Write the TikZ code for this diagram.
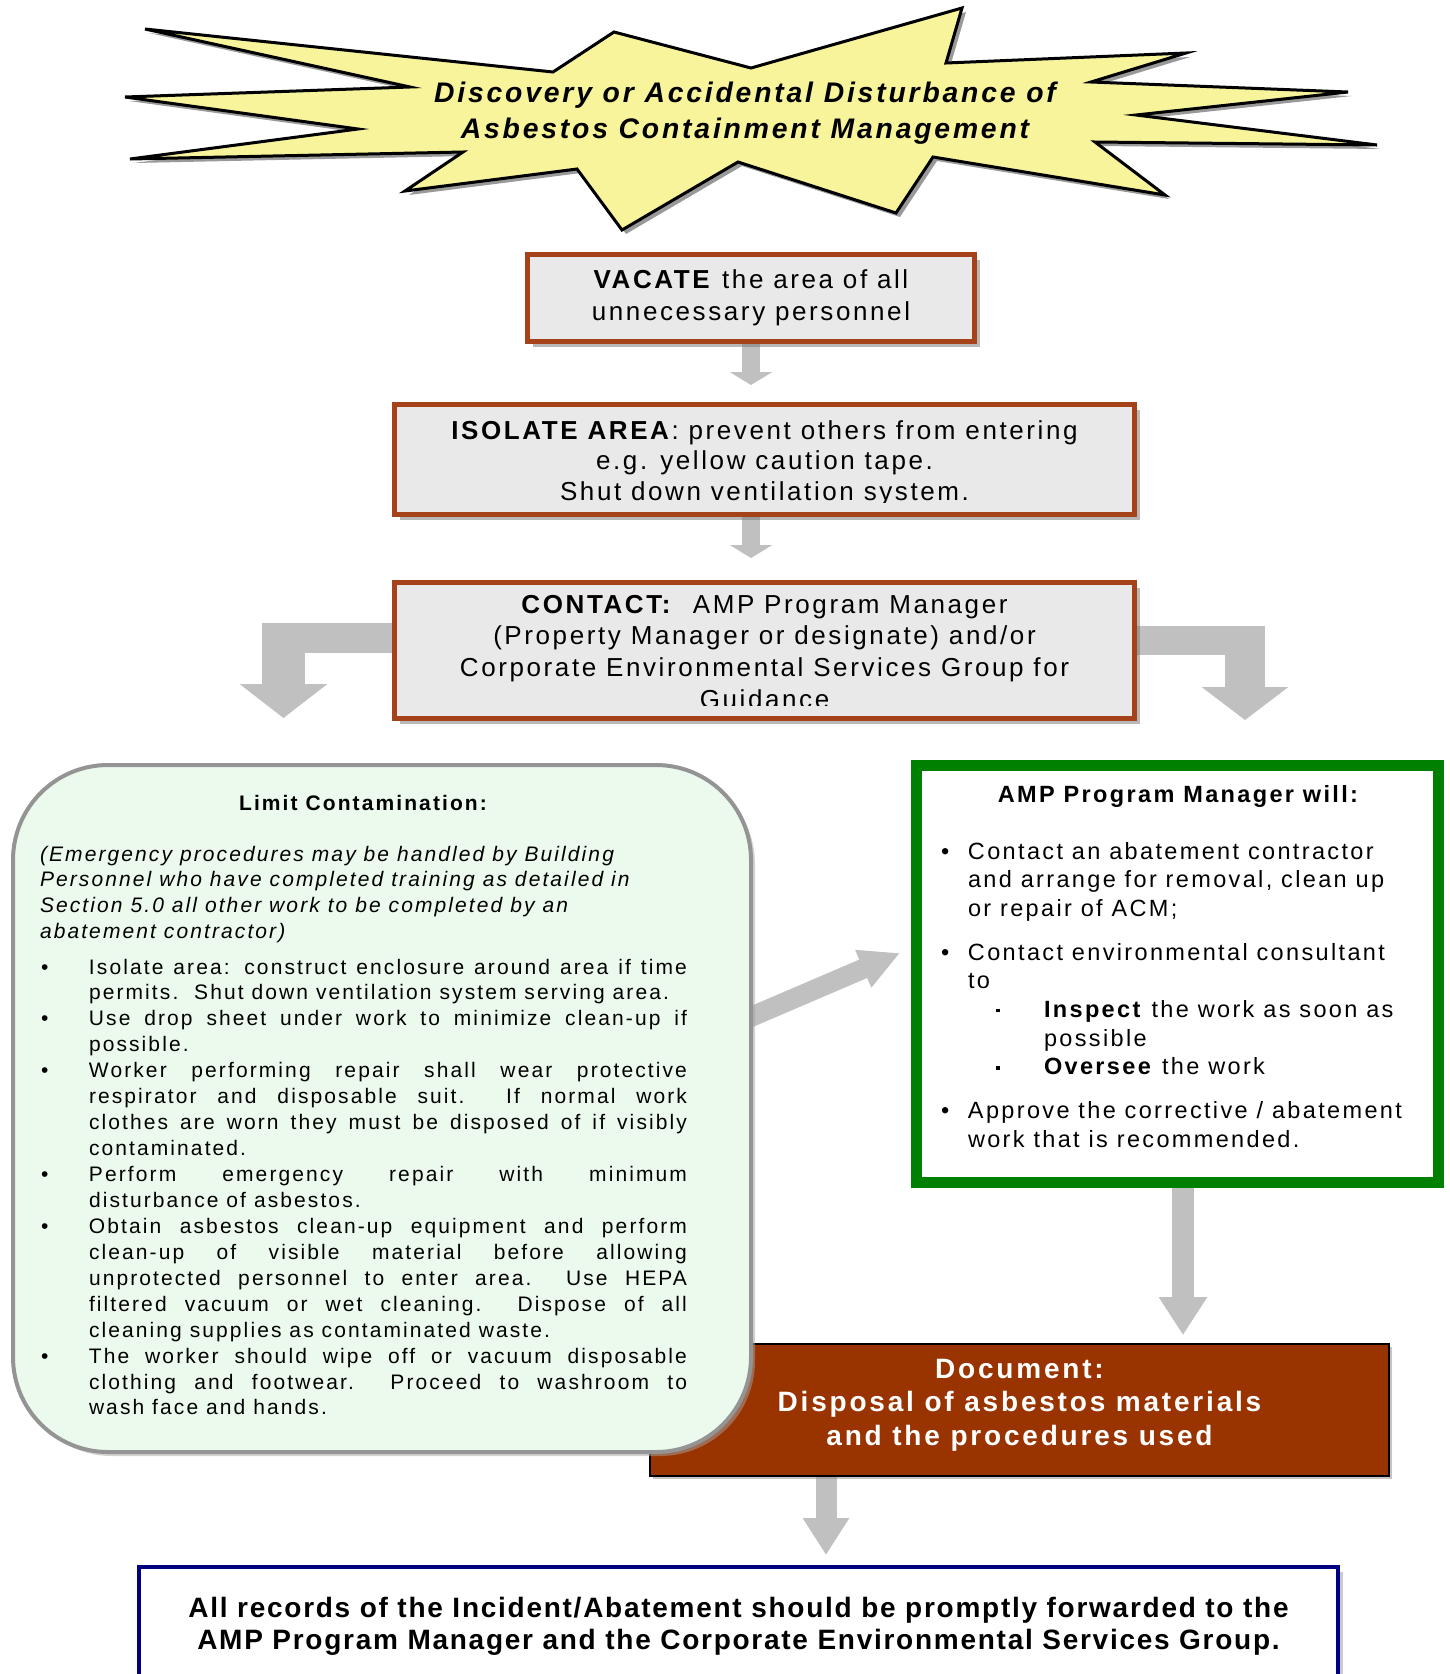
\documentclass[tikz,border=0pt]{standalone}
\usepackage{fontspec}
\setmainfont{Liberation Sans}
\newfontfamily\lsfont[LetterSpace=10]{Liberation Sans}
\newfontfamily\lsfontb[LetterSpace=6.2]{Liberation Sans}
\usetikzlibrary{arrows.meta,shadows,backgrounds}
\pgfdeclarelayer{bottomlayer}
\pgfsetlayers{bottomlayer,background,main}
\definecolor{boxfill}{RGB}{233,233,233}
\definecolor{boxedge}{RGB}{165,66,25}
\definecolor{arrowgray}{RGB}{192,192,192}
\definecolor{starfill}{RGB}{248,244,155}
\definecolor{lgreen}{RGB}{236,250,238}
\definecolor{dgreen}{RGB}{0,128,0}
\definecolor{docfill}{RGB}{153,51,0}
\definecolor{navyedge}{RGB}{0,0,128}
\newcommand\jline[1]{\makebox[598pt][s]{#1}\\}
\newcommand\lline[1]{\makebox[598pt][l]{#1}\\}
\newcommand\lastl[1]{\makebox[598pt][l]{#1}}
\newcommand\bitem{\makebox[49pt][l]{\hspace{1pt}\textbullet}}
\newcommand\bind{\hspace*{49pt}}
\newcommand\rbul{\makebox[27pt][l]{\textbullet}}
\newcommand\rind{\hspace*{27pt}}
\newcommand\sqb{\makebox[48pt][l]{\rule[0.22em]{3.5pt}{3.5pt}}}
\begin{document}
\begin{tikzpicture}[x=1pt,y=-1pt,
  every node/.style={inner sep=0pt, outer sep=0pt},
  mainbox/.style={rectangle, draw=boxedge, line width=5pt, fill=boxfill,
    drop shadow={shadow xshift=5pt, shadow yshift=-5pt, fill=black!55}},
  lbox/.style={rectangle, rounded corners=95pt, draw=black!42, line width=4pt, fill=lgreen,
    drop shadow={shadow xshift=4pt, shadow yshift=-4pt, fill=black!35}},
  gbox/.style={rectangle, draw=dgreen, line width=11pt, fill=white,
    drop shadow={shadow xshift=4pt, shadow yshift=-4pt, fill=black!25}},
  docbox/.style={rectangle, draw=black, line width=2pt, fill=docfill,
    drop shadow={shadow xshift=3pt, shadow yshift=-3pt, fill=black!45}},
  recbox/.style={rectangle, draw=navyedge, line width=4pt, fill=white,
    drop shadow={shadow xshift=5pt, shadow yshift=-5pt, fill=black!40}},
  gar/.style n args={3}{draw=arrowgray, line width=#1, -{Triangle[width=#2,length=#3]}},
  gbar/.style={draw=arrowgray, line width=#1}
]
\useasboundingbox (0,0) rectangle (1450,1674);
\begin{pgfonlayer}{bottomlayer}
\fill[white] (0,0) rectangle (1450,1674);
\end{pgfonlayer}

% starburst
\fill[black!40, shift={(4,4)}] (145,29) -- (553,72) -- (614,32) -- (751,68) -- (962,8) -- (946,63) -- (1186,53) -- (1091,82) -- (1348,92) -- (1136,115) -- (1377,145) -- (1095,142) -- (1165,195) -- (933,157) -- (896,213) -- (738,162) -- (622,230) -- (577,169) -- (405,191) -- (463,152) -- (130,159) -- (358,129) -- (125,97) -- (410,87) -- cycle;
\filldraw[fill=starfill, draw=black, line width=3pt, line join=miter] (145,29) -- (553,72) -- (614,32) -- (751,68) -- (962,8) -- (946,63) -- (1186,53) -- (1091,82) -- (1348,92) -- (1136,115) -- (1377,145) -- (1095,142) -- (1165,195) -- (933,157) -- (896,213) -- (738,162) -- (622,230) -- (577,169) -- (405,191) -- (463,152) -- (130,159) -- (358,129) -- (125,97) -- (410,87) -- cycle;
\node[anchor=base] (burst) at (745,102) {\parbox[t]{800pt}{\centering\lsfont\fontsize{28.3}{36}\selectfont\bfseries\itshape Discovery or Accidental Disturbance of\\Asbestos Containment Management}};

% VACATE
\node[mainbox, minimum width=447pt, minimum height=87pt] (vacate) at (751,298) {};
\node[anchor=base] (vacatetxt) at (751,288) {\parbox[t]{440pt}{\centering\lsfont\fontsize{26}{32}\selectfont\textbf{VACATE} the area of all\\unnecessary personnel}};

% ISOLATE
\node[mainbox, minimum width=740pt, minimum height=110pt] (isolate) at (764.5,459.5) {};
\begin{scope}
\clip (isolate.north west) rectangle (isolate.east |- 0,502);
\node[anchor=base] (isolatetxt) at (764.5,439) {\parbox[t]{730pt}{\centering\lsfont\fontsize{26}{30.7}\selectfont\textbf{ISOLATE AREA}: prevent others from entering\\e.g. yellow caution tape.\\Shut down ventilation system.}};
\end{scope}

% CONTACT
\node[mainbox, minimum width=740pt, minimum height=136pt] (contact) at (764.5,650.5) {};
\begin{scope}
\clip (contact.north west) rectangle (contact.east |- 0,705);
\node[anchor=base] (contacttxt) at (764.5,613) {\parbox[t]{730pt}{\centering\lsfont\fontsize{26}{31.7}\selectfont\textbf{CONTACT:}\ \ AMP Program Manager\\(Property Manager or designate) and/or\\Corporate Environmental Services Group for\\Guidance}};
\end{scope}

% Document box (behind the left box)
\node[docbox, minimum width=739pt, minimum height=132pt] (doc) at (1019.5,1410) {};
\node[anchor=base, text=white] (doctxt) at (1019.5,1378) {\parbox[t]{720pt}{\centering\lsfont\fontsize{28}{33.5}\selectfont\bfseries Document:\\Disposal of asbestos materials\\and the procedures used}};

% Limit contamination box
\node[lbox, minimum width=738pt, minimum height=687pt] (limit) at (382,1108.5) {};
\node[anchor=base] (limithead) at (363,810) {\lsfont\fontsize{21}{26}\selectfont\bfseries Limit Contamination:};
\node[anchor=base west] (limitnote) at (40,861) {\parbox[t]{650pt}{\lsfont\fontsize{21}{25.8}\selectfont\itshape (Emergency procedures may be handled by Building\\Personnel who have completed training as detailed in\\Section 5.0 all other work to be completed by an\\abatement contractor)}};
\node[anchor=base west] (limitlist) at (40,974) {\parbox[t]{650pt}{\lsfont\fontsize{21}{25.94}\selectfont
\bitem\jline{Isolate area: construct enclosure around area if time}
\bind\lline{permits.\ \ Shut down ventilation system serving area.}
\bitem\jline{Use drop sheet under work to minimize clean-up if}
\bind\lline{possible.}
\bitem\jline{Worker performing repair shall wear protective}
\bind\jline{respirator and disposable suit.\ \ If normal work}
\bind\jline{clothes are worn they must be disposed of if visibly}
\bind\lline{contaminated.}
\bitem\jline{Perform emergency repair with minimum}
\bind\lline{disturbance of asbestos.}
\bitem\jline{Obtain asbestos clean-up equipment and perform}
\bind\jline{clean-up of visible material before allowing}
\bind\jline{unprotected personnel to enter area.\ \ Use HEPA}
\bind\jline{filtered vacuum or wet cleaning.\ \ Dispose of all}
\bind\lline{cleaning supplies as contaminated waste.}
\bitem\jline{The worker should wipe off or vacuum disposable}
\bind\jline{clothing and footwear.\ \ Proceed to washroom to}
\bind\lastl{wash face and hands.}}};

% AMP Program Manager box
\node[gbox, minimum width=522pt, minimum height=417pt] (amp) at (1177.5,974) {};
\node[anchor=base] (amphead) at (1178,802) {\lsfont\fontsize{23.5}{28.5}\selectfont\bfseries AMP Program Manager will:};
\node[anchor=base west] (amplist) at (941,859) {\parbox[t]{495pt}{\lsfont\fontsize{23.5}{28.7}\selectfont
\rbul Contact an abatement contractor\\
\rind and arrange for removal, clean up\\
\rind or repair of ACM;\\[15pt]
\rbul Contact environmental consultant\\
\rind to\\
\hspace*{55pt}\sqb\textbf{Inspect} the work as soon as\\
\hspace*{103pt}possible\\
\hspace*{55pt}\sqb\textbf{Oversee} the work\\[15pt]
\rbul Approve the corrective / abatement\\
\rind work that is recommended.}};

% records box
\node[recbox, minimum width=1199pt, minimum height=160pt, anchor=north] (records) at (738.5,1567) {};
\node[anchor=base] (recordstxt) at (738.5,1617) {\parbox[t]{1200pt}{\centering\lsfontb\fontsize{28}{32}\selectfont\bfseries All records of the Incident/Abatement should be promptly forwarded to the\\AMP Program Manager and the Corporate Environmental Services Group.}};

% connectors
\coordinate (lbar) at (262,638);
\coordinate (lstem) at (283.5,623);
\coordinate (ltip) at (283.5,718);
\coordinate (rbar) at (1265,640.5);
\coordinate (rstem) at (1245,626);
\coordinate (rtip) at (1245,720);
\coordinate (dstart) at (740,1021.6);
\coordinate (dtip) at (900,953);
\coordinate (dx) at (826,0);
\begin{scope}[on background layer]
\draw[gar={18pt}{42pt}{13pt}, shorten >=19.5pt] (vacate.south) -- (vacate.south |- isolate.north);
\draw[gar={18pt}{42pt}{13pt}, shorten >=24.5pt] (vacate.south |- isolate.south) -- (vacate.south |- contact.north);
\draw[gbar=30pt] (contact.west |- lbar) -- (lbar);
\draw[gar={43pt}{86pt}{34pt}] (lstem) -- (ltip);
\draw[gbar=29pt] (contact.east |- rbar) -- (rbar);
\draw[gar={40pt}{85pt}{33pt}] (rstem) -- (rtip);
\draw[gar={20pt}{38pt}{40pt}] (dstart) -- (dtip);
\draw[gar={22pt}{46pt}{38pt}, shorten >=9pt] ([xshift=5.5pt]amp.south) -- ([xshift=5.5pt]amp.south |- doc.north);
\draw[gar={21pt}{44pt}{37pt}, shorten >=12pt] (doc.south -| dx) -- (records.north -| dx);
\end{scope}
\end{tikzpicture}
\end{document}
